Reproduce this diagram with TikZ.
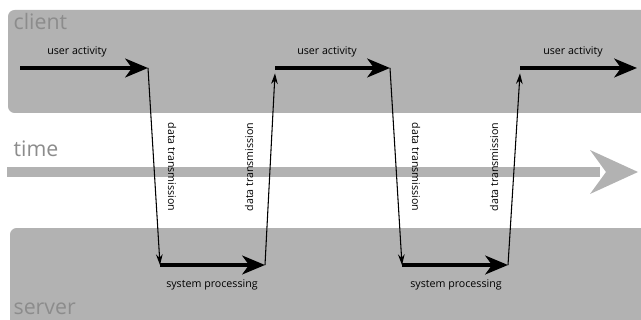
\documentclass[tikz,border=0pt]{standalone}
\usepackage{fontspec}
\setmainfont{Open Sans}
\usetikzlibrary{arrows.meta}

\begin{document}
\begin{tikzpicture}[x=0.75pt,y=-0.75pt,
  every node/.style={font=\fontsize{8}{10}\selectfont,inner sep=1pt},
  band/.style={fill=black!30,rounded corners=5pt},
  tag/.style={font=\fontsize{16}{18}\selectfont,text=black!45,anchor=west},
  act/.style={-{Stealth[length=17pt,width=14pt,inset=5pt]},line width=3pt},
  msg/.style={-{Stealth[length=8pt,width=5pt]},line width=0.8pt}]
  \useasboundingbox (0,0) rectangle (641,320);
  % lanes
  \fill[band] (8,10) rectangle (650,113);
  \fill[band] (10,228) rectangle (650,330);
  \fill[black!30] (7,167) rectangle (600,177);
  \fill[black!30] (590,150) -- (638,172) -- (590,194) -- (606,172) -- cycle;
  \node[tag] (client) at (12,22) {client};
  \node[tag] (time) at (12,149) {time};
  \node[tag] (server) at (12,309) {server};
  % turning points
  \coordinate (a0) at (20,68);   \coordinate (a1) at (148,68);
  \coordinate (s1) at (160,265); \coordinate (s2) at (265,265);
  \coordinate (a2) at (275,68);  \coordinate (a3) at (390,68);
  \coordinate (s3) at (402,265); \coordinate (s4) at (508,265);
  \coordinate (a4) at (520,68);  \coordinate (a5) at (637,68);
  % client side
  \draw[act] (a0) -- (a1);
  \draw[act] (a2) -- (a3);
  \draw[act] (a4) -- (a5);
  \node (ua1) at (77,52) {user activity};
  \node (ua2) at (327,52) {user activity};
  \node (ua3) at (573,52) {user activity};
  % server side
  \draw[act] (s1) -- (s2);
  \draw[act] (s3) -- (s4);
  \node (sp1) at (212,285) {system processing};
  \node (sp2) at (456,285) {system processing};
  % transmissions
  \draw[msg] (a1) -- (s1);
  \draw[msg] (s2) -- ([yshift=-4]a2);
  \draw[msg] (a3) -- (s3);
  \draw[msg] (s4) -- ([yshift=-4]a4);
  \node[rotate=-90] (dt1) at (172,167) {data transmission};
  \node[rotate=90] (dt2) at (249,167) {data transmission};
  \node[rotate=-90] (dt3) at (416,167) {data transmission};
  \node[rotate=90] (dt4) at (494,167) {data transmission};
\end{tikzpicture}
\end{document}
